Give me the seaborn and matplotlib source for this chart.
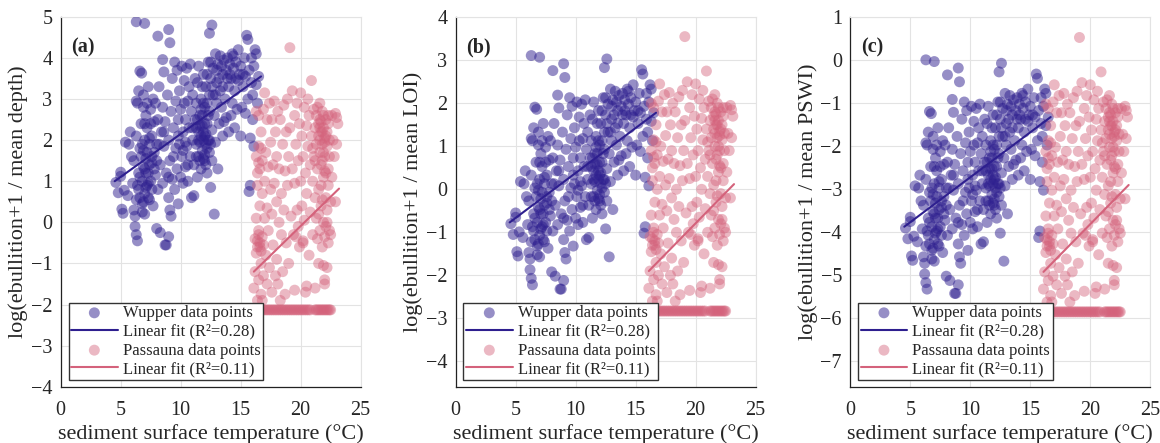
import seaborn as sns
import matplotlib.pyplot as plt
import numpy as np
import pandas as pd

# Wupper: temperature (°C) and log(ebullition+1 / mean depth)
wup_t = [4.6, 4.8, 5.0, 5.0, 5.1, 5.2, 5.3, 5.6, 5.4, 5.7, 5.9, 5.8, 6.0, 6.1, 6.1, 6.2, 6.2, 6.3, 6.4, 6.3,
         6.4, 6.3, 6.4, 6.3, 6.5, 6.5, 6.6, 6.6, 6.7, 6.8, 6.8, 6.9, 6.9, 7.0, 7.0, 7.1, 7.1, 7.2, 7.2, 7.3,
         7.3, 7.4, 7.4, 7.5, 7.5, 7.6, 7.6, 7.7, 7.7, 7.8, 7.8, 7.9, 7.9, 8.0, 8.0, 8.1, 8.1, 8.2, 8.3, 8.3,
         8.4, 8.5, 8.5, 8.6, 8.7, 8.8, 8.7, 8.8, 8.9, 9.0, 9.0, 9.0, 9.1, 9.1, 9.2, 9.2, 9.3, 9.3, 9.4, 9.5,
         9.5, 9.6, 9.6, 9.7, 9.7, 9.8, 9.8, 9.9, 9.9, 10.0, 10.0, 10.1, 10.1, 10.2, 10.2, 10.3, 10.3, 10.4, 10.4, 10.5,
         10.5, 10.6, 10.6, 10.7, 10.7, 10.8, 10.8, 10.9, 10.9, 11.0, 11.0, 11.1, 11.1, 11.2, 11.2, 11.3, 11.3, 11.4, 11.4, 11.5,
         11.5, 11.5, 11.6, 11.6, 11.7, 11.7, 11.8, 11.8, 11.9, 11.9, 12.0, 12.0, 12.0, 12.1, 12.1, 12.2, 12.2, 12.3, 12.3, 12.4,
         12.4, 12.4, 12.5, 12.5, 12.6, 12.6, 12.6, 12.7, 12.7, 12.8, 12.8, 12.9, 12.9, 13.0, 13.0, 13.1, 13.1, 13.2, 13.3, 13.3,
         13.4, 13.5, 13.5, 13.6, 13.7, 13.8, 13.8, 13.9, 14.0, 14.0, 14.1, 14.2, 14.3, 14.3, 14.4, 14.5, 14.5, 14.6, 14.7, 14.8,
         14.8, 14.9, 15.0, 15.0, 15.1, 15.2, 15.3, 15.4, 15.4, 15.5, 15.6, 15.6, 15.7, 15.7, 15.8, 15.8, 15.9, 15.9, 16.0, 16.0,
         16.1, 16.1, 16.2, 16.3, 16.3, 16.4, 16.5,
         6.7, 6.8, 6.9, 7.0, 7.0, 7.1, 7.2, 7.3, 7.4, 6.6, 6.5, 7.5, 7.6, 7.8, 8.0, 6.9, 7.2,
         11.5, 11.6, 11.7, 11.8, 11.9, 12.0, 12.1, 12.2, 12.3, 11.4, 11.3, 12.5, 12.1, 11.9, 12.2, 12.5, 12.6, 12.4, 11.8, 13.0,
         13.2, 13.5, 14.1, 14.6,
         6.3, 7.0, 8.1, 9.0, 9.1, 6.6, 6.75, 8.5, 8.6,
         6.9, 7.1, 7.3, 7.6, 7.0, 6.8, 7.4, 8.2, 8.6, 9.4, 10.2, 10.6, 11.0, 11.3, 11.6, 11.9, 12.2, 12.0, 11.7, 12.4,
         13.4, 13.9, 14.4, 15.2, 14.2, 13.6, 12.9, 10.4, 9.8, 9.0]
wup_y = [0.97, 0.72, 1.22, 1.12, 0.32, 0.22, 0.78, 0.65, 1.95, 1.9, 1.6, 2.2, 0.95, 1.5, 0.3, 0.15, -0.1, -0.3, -0.45, 0.55,
         0.9, 2.1, 2.9, 2.95, 3.2, 1.2, 0.6, 1.8, 2.4, 0.25, 1.0, 3.1, 1.35, 2.0, 0.7, 1.55, 2.6, 0.9, 2.3, 1.2,
         3.3, 0.55, 1.9, 2.75, 1.0, 1.45, 2.1, 0.4, 3.0, 1.7, 2.45, 1.15, 2.9, -0.15, 1.9, 2.5, 0.8, 3.3, -0.25, 1.4,
         2.2, 2.8, 0.95, 1.85, -0.55, -0.55, 2.45, 1.2, 3.1, -0.35, 0.6, 2.0, 0.3, 1.5, 0.15, 2.7, 3.5, 1.05, 2.3, 0.8,
         3.9, 1.8, 2.95, 1.3, 3.7, 2.5, 0.45, 1.9, 3.2, 1.1, 2.75, 3.8, 1.6, 2.2, 0.95, 3.45, 2.9, 1.35, 2.5, 3.75,
         1.85, 2.95, 1.0, 2.3, 3.3, 1.6, 3.85, 2.7, 0.6, 2.0, 3.1, 0.65, 1.4, 2.5, 3.5, 1.9, 2.9, 1.1, 3.4, 2.2,
         1.6, 3.8, 2.6, 1.95, 1.3, 3.0, 2.35, 1.75, 2.0, 3.6, 1.5, 2.8, 2.1, 1.9, 3.3, 2.4, 1.2, 3.9, 2.0, 4.6,
         1.7, 2.7, 0.85, 3.5, 4.8, 2.25, 1.5, 3.1, 3.75, 0.2, 2.6, 1.95, 4.1, 3.4, 2.9, 1.3, 3.85, 2.4, 3.2, 4.05,
         2.8, 3.6, 2.1, 3.95, 3.0, 2.55, 3.7, 4.0, 3.3, 2.2, 3.85, 3.5, 2.9, 4.1, 3.75, 3.2, 2.3, 3.9, 2.75, 4.2,
         3.45, 3.6, 2.1, 3.8, 2.8, 3.3, 4.0, 3.55, 2.65, 4.55, 4.45, 3.0, 0.75, 3.7, 0.9, 2.05, 3.4, 4.0, 2.5, 3.1,
         1.85, 3.8, 4.2, 4.1, 3.35, 2.9, 3.55,
         1.6, 1.9, 0.5, 1.3, 2.4, 0.85, 1.7, 0.6, 1.4, 1.1, 0.8, 2.4, 0.8, 1.3, 1.5, 2.8, 2.9,
         2.0, 1.5, 2.1, 2.6, 1.55, 2.4, 2.15, 1.8, 2.6, 2.5, 2.3, 1.9, 1.4, 2.9, 3.6, 3.9, 3.3, 3.1, 3.3, 3.7,
         3.5, 3.3, 3.6, 3.5,
         4.88, 4.84, 4.53, 4.69, 4.37, 3.68, 3.63, 3.96, 3.66,
         1.75, 1.2, 0.95, 1.6, 0.2, 0.45, 2.05, 1.9, 2.2, 1.6, 1.75, 1.4, 2.3, 1.6, 2.35, 2.2, 2.9, 1.65, 2.75, 2.0,
         3.8, 3.5, 4.05, 3.6, 2.6, 2.45, 3.1, 1.95, 2.1, 1.1]

# Passauna: scattered points and the floor row (zero ebullition)
pas_t = [16.1, 16.2, 16.2, 16.3, 16.3, 16.3, 16.4, 16.4, 16.4, 16.5, 16.5, 16.5, 16.5, 16.6, 16.6, 16.6, 16.7, 16.7, 16.7, 16.7,
         16.8, 16.8, 16.8, 16.9, 16.9, 16.9, 17.0, 17.0, 17.0, 17.1, 17.1, 17.2, 17.2, 17.2,
         17.3, 17.3, 17.4, 17.4, 17.5, 17.5, 17.6, 17.6, 17.6, 17.7, 17.7, 17.8, 17.8, 17.9, 17.9, 18.0, 18.0, 18.0, 18.1, 18.1,
         18.2, 18.2, 18.3, 18.3, 18.4, 18.4, 18.5, 18.5, 18.6, 18.6, 18.7, 18.7, 18.8, 18.8, 18.9, 18.9, 19.0, 19.0, 19.1, 19.1,
         19.2, 19.3, 19.3, 19.4, 19.5, 19.5, 19.6, 19.7, 19.7, 19.8, 19.9, 19.9, 20.0, 20.0, 20.1, 20.1, 20.2, 20.2, 20.3, 20.3,
         20.4, 20.4, 20.5, 20.5, 20.6, 20.6, 20.7, 20.7, 20.8, 20.8, 20.9, 20.9, 21.0, 21.0, 21.1, 21.1, 21.2, 21.2, 21.2, 21.3,
         21.3, 21.3, 21.4, 21.4, 21.4, 21.5, 21.5, 21.5, 21.6, 21.6, 21.6, 21.7, 21.7, 21.7, 21.8, 21.8, 21.8, 21.9, 21.9, 21.9,
         22.0, 22.0, 22.0, 22.0, 22.1, 22.1, 22.1, 22.2, 22.2, 22.2, 22.2, 22.3, 22.3, 22.3, 22.4, 22.4, 22.4, 22.5, 22.5, 22.6,
         22.7, 22.8, 22.9, 23.0, 23.0, 23.1, 22.9, 22.6, 21.0, 21.2, 21.6, 21.8, 21.9, 22.1, 22.3, 21.5, 21.7, 20.2, 19.8, 19.6,
         19.5, 22.0, 21.9, 20.5,
         16.4, 16.6, 16.3, 16.5, 16.7, 16.5, 16.8, 16.4, 21.6, 21.8, 22.0, 21.7, 21.9, 22.1, 21.5, 22.2, 21.8, 22.0, 21.6, 22.3]
pas_y = [-1.6, -1.2, -0.4, 0.1, 1.6, 2.7, -1.9, -0.6, 0.9, -1.4, -0.2, 1.85, 2.6, -0.5, 0.4, 1.3, -1.0, -1.75, -0.7, 2.2,
         -0.35, 0.7, 1.5, -1.3, -0.55, 2.75, 0.1, 1.0, 3.15, -0.8, 1.7, -1.5, 0.35, 2.5,
         -0.2, 1.35, 2.9, -1.1, 0.8, 1.95, -1.7, 0.2, 2.5, -0.55, 1.4, 2.95, 0.95, -1.3, 2.2, 0.5, -0.9, 1.6, 2.7, -1.5,
         0.0, 1.3, 2.5, -1.9, 0.7, -0.3, 1.9, -1.2, 2.85, 0.3, 1.25, -1.75, 2.2, -0.5, 0.9, 3.0, 1.6, -1.0, 4.25, 2.3,
         0.15, 1.3, 3.2, -0.3, 2.6, 0.95, 1.9, 0.3, 2.9, 1.5, -0.6, 2.4, 3.15, 1.0, 0.4, 2.1, -0.5, 1.6, 2.8, 0.05,
         1.2, -1.7, 2.35, 0.7, 3.0, 1.85, -0.8, 2.6, 1.4, 0.25, 3.45, 2.1, 1.0, -0.3, 2.75, 1.6, -1.6, 0.6, 2.3, 1.9,
         2.6, 0.1, 1.3, -0.4, 2.8, 2.1, 0.8, -1.0, 1.7, 2.5, -0.2, 2.2, 0.4, 1.4, 2.7, 1.9, -0.6, 2.3, 1.1, 0.0,
         2.05, 1.6, -0.35, -1.4, 2.5, 0.6, -0.1, 1.85, 0.3, -1.1, 2.2, 1.3, -0.5, 0.9, 1.6, -0.2, 2.0, 0.5, -0.3, 1.1,
         2.0, 1.6, 2.65, 1.9, 2.55, 2.4, 0.5, 2.6, 1.8, 1.5, 2.9, 1.5, 2.6, 1.2, 2.4, 2.4, 0.9, -0.45, -0.1, -0.35,
         -1.65, -1.5, -1.05, -1.55,
         -0.45, -0.6, -0.75, 1.45, 1.8, -0.3, -1.9, 1.2, 2.0, 2.2, 1.95, 2.45, 1.7, 2.1, 0.2, 0.0, 0.55, 1.25, 2.3, 2.6]
pas_floor_t = [16.3, 16.45, 16.6, 16.75, 16.9, 17.05, 17.2, 17.35, 17.5, 17.65, 17.8, 17.95, 18.1, 18.25, 18.4, 18.55,
               18.7, 18.85, 19.0, 19.15, 19.3, 19.45, 19.6, 19.75, 19.9, 20.05, 20.2, 20.35, 20.5, 20.65, 20.8,
               21.2, 21.32, 21.44, 21.56, 21.68, 21.8, 21.92, 22.04, 22.16, 22.28, 22.4, 22.5]
pas_floor_y = -2.13

# linear fits: slope, intercept
wup_fit = (0.209, 0.06)
pas_fit = (0.2845, -5.78)

# vertical shift of each lake between panels (division by a different mean)
panels = ["(a)", "(b)", "(c)"]
ylabels = ["log(ebullition+1 / mean depth)", "log(ebullition+1 / mean LOI)", "log(ebullition+1 / mean PSWI)"]
wup_shift = [0.0, -1.78, -4.88]
pas_shift = [0.0, -0.71, -3.73]
ylims = [(-4, 5), (-4.6, 4), (-7.6, 1)]
yticks = [range(-4, 6), range(-4, 5), range(-7, 2)]

wup_col = "#2e1f8f"
pas_col = "#d4627b"

sns.set_style("whitegrid")
plt.rcParams["font.family"] = ["Liberation Serif", "DejaVu Serif"]

fig = plt.figure(figsize=(11.6, 4.43), dpi=100)
lefts = [0.0523, 0.3928, 0.733]

wup = pd.DataFrame({"t": wup_t, "y": wup_y})
pas = pd.DataFrame({"t": pas_t + pas_floor_t, "y": pas_y + [pas_floor_y] * len(pas_floor_t)})

for i in range(3):
    ax = fig.add_axes([lefts[i], 0.127, 0.2586, 0.835])

    h1 = ax.scatter(wup["t"], wup["y"] + wup_shift[i], s=62, color=wup_col, alpha=0.5,
                    edgecolors="none", label="Wupper data points", zorder=3)
    xs = np.array([wup["t"].min() - 0.1, wup["t"].max() + 0.2])
    fit_w = pd.DataFrame({"x": xs, "y": wup_fit[0] * xs + wup_fit[1] + wup_shift[i]})
    sns.lineplot(data=fit_w, x="x", y="y", ax=ax, color=wup_col, lw=1.5, zorder=4)

    h3 = ax.scatter(pas["t"], pas["y"] + pas_shift[i], s=62, color=pas_col, alpha=0.45,
                    edgecolors="none", label="Passauna data points", zorder=3)
    xs = np.array([pas["t"].min(), pas["t"].max() + 0.1])
    fit_p = pd.DataFrame({"x": xs, "y": pas_fit[0] * xs + pas_fit[1] + pas_shift[i]})
    sns.lineplot(data=fit_p, x="x", y="y", ax=ax, color=pas_col, lw=1.5, zorder=4)

    lines = ax.get_lines()
    ax.legend([h1, lines[0], h3, lines[1]],
              ["Wupper data points", "Linear fit (R²=0.28)", "Passauna data points", "Linear fit (R²=0.11)"],
              loc="lower left", bbox_to_anchor=(0.015, 0.01), fontsize=12, frameon=True, fancybox=False,
              edgecolor="#333333", framealpha=1, handlelength=2.8, labelspacing=0.16, borderpad=0.15,
              handletextpad=0.3, borderaxespad=0.2)

    ax.set_xlim(0, 25)
    ax.set_ylim(*ylims[i])
    ax.set_xticks(range(0, 26, 5))
    ax.set_yticks(list(yticks[i]))
    ax.tick_params(labelsize=14.5, length=0)
    ax.tick_params(axis="x", pad=10)
    ax.tick_params(axis="y", pad=6)
    ax.set_xlabel("sediment surface temperature (°C)", fontsize=16, labelpad=3)
    ax.set_ylabel(ylabels[i], fontsize=16, labelpad=2)
    ax.grid(color="#e3e3e3", lw=0.8)
    ax.set_axisbelow(True)
    for side in ["top", "right"]:
        ax.spines[side].set_color("#e3e3e3")
    for side in ["left", "bottom"]:
        ax.spines[side].set_color("#222222")
        ax.spines[side].set_linewidth(0.9)
    ax.text(0.035, 0.945, panels[i], transform=ax.transAxes, fontsize=14.5, fontweight="bold",
            va="top", ha="left")

fig.savefig("out.png", dpi=100)
